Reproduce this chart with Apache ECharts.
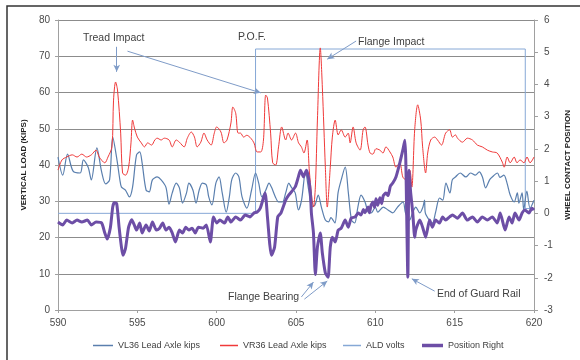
<!DOCTYPE html>
<html><head><meta charset="utf-8">
<script src="https://cdn.jsdelivr.net/npm/echarts@6/dist/echarts.min.js"></script>
<style>html,body{margin:0;padding:0;background:#fff}#c{width:580px;height:360px}</style>
</head><body><div id="c"></div>
<script>
const vl36 = [[590.0,42.2],[590.3,37.2],[590.6,43.0],[590.95,38.3],[591.4,37.8],[591.6,41.4],[591.9,39.4],[592.1,35.9],[592.45,44.7],[592.75,38.1],[593.0,34.8],[593.25,35.9],[593.45,47.7],[593.7,41.9],[593.9,35.9],[594.0,33.9],[594.25,33.1],[594.5,31.2],[594.7,33.9],[594.95,42.8],[595.15,43.6],[595.3,40.6],[595.55,33.1],[595.75,32.6],[595.95,35.9],[596.25,36.7],[596.5,35.9],[596.8,33.9],[597.0,29.2],[597.2,32.3],[597.45,35.0],[597.65,33.7],[597.85,29.5],[598.1,32.3],[598.25,35.0],[598.5,33.1],[598.7,29.5],[598.9,33.1],[599.1,35.0],[599.35,34.5],[599.5,31.2],[599.7,29.0],[599.95,35.0],[600.15,36.7],[600.35,32.3],[600.6,27.0],[600.8,31.2],[600.95,35.9],[601.2,37.8],[601.4,36.7],[601.6,31.2],[601.9,28.1],[602.2,33.1],[602.45,37.8],[602.65,35.0],[602.85,31.2],[603.1,33.1],[603.3,35.0],[603.45,33.9],[603.7,31.2],[603.9,29.8],[604.15,29.8],[604.35,32.3],[604.55,35.0],[604.7,33.9],[604.95,32.3],[605.15,27.6],[605.35,30.3],[605.6,38.1],[605.8,33.1],[606.0,28.4],[606.2,29.0],[606.4,31.7],[606.6,28.4],[606.85,24.8],[607.05,24.3],[607.2,25.5],[607.45,24.0],[607.65,32.3],[607.85,35.9],[608.1,39.4],[608.3,32.3],[608.5,24.8],[608.7,24.0],[608.9,28.4],[609.1,31.7],[609.35,29.8],[609.55,27.0],[609.75,26.8],[610.0,28.4],[610.15,27.0],[610.5,28.4],[610.8,27.6],[611.1,26.8],[611.4,28.4],[611.75,29.8],[611.9,26.8],[612.15,24.8],[612.35,26.8],[612.55,28.4],[612.8,26.8],[613.0,28.4],[613.1,30.3],[613.15,26.8],[613.4,24.8],[613.6,24.0],[613.8,27.0],[614.05,30.9],[614.25,30.3],[614.45,35.0],[614.7,32.3],[614.85,35.9],[615.05,36.7],[615.35,37.8],[615.7,36.7],[616.0,37.8],[616.3,37.2],[616.55,38.1],[616.75,36.7],[616.95,33.7],[617.2,35.9],[617.35,36.6],[617.7,37.8],[617.85,36.6],[618.1,37.2],[618.3,35.0],[618.5,31.7],[618.75,29.8],[618.95,32.3],[619.05,29.5],[619.25,32.3],[619.35,27.6],[619.55,32.8],[619.75,28.1],[620.0,30.3]];

const vr36 = [[590.0,38.6],[590.25,41.4],[590.55,42.2],[590.9,42.8],[591.2,42.2],[591.5,43.0],[591.8,42.2],[592.1,42.8],[592.4,44.1],[592.6,42.2],[592.95,40.6],[593.15,42.2],[593.4,45.0],[593.5,57.9],[593.63,62.9],[593.75,60.7],[593.95,48.8],[594.07,37.8],[594.26,37.2],[594.45,39.4],[594.6,46.1],[594.7,52.4],[594.82,50.2],[595.0,47.7],[595.25,46.1],[595.45,45.0],[595.65,46.1],[595.9,45.5],[596.1,46.9],[596.25,47.4],[596.5,46.9],[596.7,47.4],[597.0,46.9],[597.2,45.0],[597.45,46.9],[597.65,46.3],[597.95,45.0],[598.15,47.4],[598.4,49.1],[598.6,47.7],[598.77,45.0],[599.0,46.3],[599.2,48.8],[599.4,46.9],[599.65,45.5],[599.85,48.8],[600.0,50.5],[600.27,49.1],[600.46,46.1],[600.65,46.9],[600.9,51.6],[601.02,56.0],[601.2,54.3],[601.35,48.8],[601.5,48.8],[601.7,47.7],[601.9,48.2],[602.15,47.4],[602.35,46.1],[602.55,43.6],[602.78,43.6],[602.95,46.9],[603.09,59.3],[603.2,58.5],[603.4,48.8],[603.53,40.6],[603.72,40.0],[603.9,45.0],[604.1,50.5],[604.35,46.9],[604.5,48.8],[604.72,46.9],[604.97,48.8],[605.16,46.1],[605.34,45.0],[605.5,43.3],[605.7,46.9],[605.85,37.8],[606.1,28.4],[606.22,33.9],[606.35,52.4],[606.53,72.3],[606.66,61.5],[606.85,39.4],[606.97,28.4],[607.16,39.4],[607.29,47.7],[607.47,52.4],[607.66,48.3],[607.85,49.7],[608.1,47.7],[608.29,48.8],[608.41,46.1],[608.6,50.5],[608.79,46.1],[609.04,44.1],[609.23,49.7],[609.35,50.5],[609.54,45.5],[609.67,43.3],[609.85,43.0],[610.04,44.5],[610.29,44.1],[610.48,43.3],[610.67,45.0],[610.92,43.6],[611.1,42.2],[611.3,39.4],[611.54,40.6],[611.73,36.7],[611.92,35.9],[612.17,38.6],[612.3,33.9],[612.48,49.7],[612.67,56.6],[612.86,52.4],[612.98,45.0],[613.17,37.8],[613.3,43.3],[613.49,46.9],[613.74,47.7],[613.92,46.9],[614.17,45.5],[614.43,48.8],[614.68,49.7],[614.86,47.7],[615.05,48.3],[615.18,47.4],[615.49,46.3],[615.8,47.4],[616.12,46.9],[616.43,45.5],[616.74,45.0],[617.06,44.1],[617.37,43.6],[617.68,43.3],[618.0,40.8],[618.12,39.4],[618.31,42.2],[618.5,40.6],[618.75,42.2],[618.93,40.6],[619.12,41.4],[619.37,40.6],[619.56,42.2],[619.75,40.6],[620.0,42.2]];

const aldVolts = [[590.0,0],[602.45,0],[602.45,5.1],[619.45,5.1],[619.45,0.15],[620.0,0.15]];

const posRight = [[590.0,-0.27],[590.3,-0.36],[590.55,-0.21],[590.9,-0.30],[591.2,-0.21],[591.5,-0.27],[591.85,-0.21],[592.1,-0.36],[592.4,-0.27],[592.75,-0.30],[592.95,-0.61],[593.1,-0.80],[593.3,-0.45],[593.45,0.20],[593.55,0.33],[593.7,0.30],[593.85,-0.43],[594.0,-1.05],[594.1,-1.30],[594.25,-1.10],[594.45,-0.43],[594.65,-0.20],[594.8,-0.35],[594.95,-0.52],[595.15,-0.30],[595.3,-0.61],[595.55,-0.36],[595.75,-0.55],[595.95,-0.27],[596.2,-0.52],[596.4,-0.46],[596.6,-0.30],[596.8,-0.52],[597.0,-0.43],[597.2,-0.61],[597.4,-0.89],[597.65,-0.52],[597.85,-0.61],[598.05,-0.43],[598.25,-0.52],[598.45,-0.46],[598.65,-0.61],[598.85,-0.43],[599.15,-0.46],[599.35,-0.36],[599.6,-0.89],[599.8,-0.11],[600.0,-0.30],[600.2,-0.21],[600.5,-0.30],[600.7,-0.11],[600.9,-0.27],[601.2,-0.11],[601.5,-0.21],[601.8,-0.05],[602.1,-0.11],[602.35,0.01],[602.55,0.04],[602.75,0.16],[603.05,0.63],[603.2,-0.11],[603.35,-0.98],[603.45,-1.30],[603.65,-1.05],[603.85,-0.11],[604.05,0.01],[604.35,0.41],[604.55,0.57],[604.95,0.82],[605.15,1.13],[605.28,1.34],[605.47,1.13],[605.66,1.34],[605.78,1.13],[605.91,0.63],[605.97,0.01],[606.1,-0.61],[606.22,-1.90],[606.35,-1.05],[606.53,-0.61],[606.66,-1.23],[606.85,-1.85],[606.97,-1.95],[607.03,-1.98],[607.16,-1.05],[607.29,-0.74],[607.47,-0.89],[607.66,-0.52],[607.85,-0.46],[608.1,-0.21],[608.29,-0.43],[608.48,-0.15],[608.73,-0.11],[608.92,0.01],[609.1,-0.05],[609.25,0.12],[609.35,0.02],[609.54,0.20],[609.63,0.02],[609.73,0.25],[609.85,0.35],[609.95,0.18],[610.04,0.45],[610.15,0.25],[610.29,0.48],[610.4,0.30],[610.5,0.55],[610.67,0.63],[610.8,0.55],[610.95,0.85],[611.1,0.94],[611.3,1.13],[611.54,1.56],[611.73,1.96],[611.86,2.27],[611.92,1.65],[612.05,-1.98],[612.12,1.34],[612.23,0.63],[612.36,0.01],[612.48,-0.74],[612.55,-0.52],[612.8,-0.21],[612.98,-0.43],[613.17,-0.74],[613.42,-0.21],[613.6,-0.43],[613.8,-0.21],[614.05,-0.30],[614.24,-0.11],[614.43,-0.21],[614.68,-0.11],[614.86,-0.05],[615.18,-0.15],[615.49,0.01],[615.8,-0.21],[616.12,-0.11],[616.43,-0.27],[616.74,-0.11],[617.06,-0.21],[617.37,-0.11],[617.68,-0.30],[617.87,0.01],[618.18,-0.52],[618.43,-0.11],[618.62,-0.30],[618.8,0.01],[619.06,-0.21],[619.25,0.01],[619.43,0.10],[619.68,0.01],[619.87,0.16],[620.0,0.10]];

const seriesNames = ['VL36 Lead Axle kips','VR36 Lead Axle kips','ALD volts','Position Right'];
const xTicks = {min:590, max:620, interval:5};
const leftTicks = {min:0, max:80, interval:10};
const rightTicks = {min:-3, max:6, interval:1};

// annotation arrows, in data units of the left axis: [from, to]
const arrows = [
  [[593.7,72.6],[593.7,65.7]],
  [[594.38,71.4],[602.78,59.9]],
  [[608.79,74.2],[606.97,69.2]],
  [[605.34,3.6],[606.1,7.7]],
  [[605.53,3.0],[606.97,8.0]],
  [[613.74,5.2],[612.3,8.6]]
];
const notes = [
  {text:'Tread Impact', x:83, y:38},
  {text:'P.O.F.', x:238, y:37},
  {text:'Flange Impact', x:358, y:42},
  {text:'Flange Bearing', x:228, y:297},
  {text:'End of Guard Rail', x:437, y:294}
];

const FONT = 'Liberation Sans';
const colors = ['#5a7fae','#f03a3a','#86a8d6','#6d4ea6'];
const chart = echarts.init(document.getElementById('c'));
const axisLabel = {color:'#4a4a4a', fontSize:10, fontFamily:FONT};
const legendSpec = [
  {left:93, w:20, h:1.5},
  {left:220, w:18, h:1.5},
  {left:343, w:18, h:1.5},
  {left:422, w:21, h:3.5}
];
chart.setOption({
  animation:false,
  backgroundColor:'#fff',
  textStyle:{fontFamily:FONT},
  grid:{left:58, right:43, top:20, bottom:50},
  legend:legendSpec.map((s,i)=>({
    data:[{name:seriesNames[i], icon:'rect'}], top:341, left:s.left, itemWidth:s.w, itemHeight:s.h, itemGap:5,
    padding:0, textStyle:{color:'#404040', fontSize:9, fontFamily:FONT}
  })),
  xAxis:{
    type:'value', min:xTicks.min, max:xTicks.max, interval:xTicks.interval,
    axisLine:{lineStyle:{color:'#a0a0a0'}}, axisTick:{show:true, length:3, lineStyle:{color:'#a0a0a0'}},
    axisLabel:Object.assign({margin:8}, axisLabel), splitLine:{show:false}
  },
  yAxis:[{
    type:'value', min:leftTicks.min, max:leftTicks.max, interval:leftTicks.interval,
    name:'VERTICAL LOAD (KIPS)', nameLocation:'middle', nameGap:28, nameRotate:90,
    nameTextStyle:{fontSize:8, fontWeight:'bold', color:'#202020', fontFamily:FONT},
    axisLine:{show:true, lineStyle:{color:'#a0a0a0'}}, axisTick:{show:true, length:3, lineStyle:{color:'#a0a0a0'}},
    axisLabel:Object.assign({margin:8}, axisLabel),
    splitLine:{show:true, lineStyle:{color:'#8c8c8c', width:1}}
  },{
    type:'value', min:rightTicks.min, max:rightTicks.max, interval:rightTicks.interval, position:'right',
    name:'WHEEL CONTACT POSITION', nameLocation:'middle', nameGap:30, nameRotate:90,
    nameTextStyle:{fontSize:8, fontWeight:'bold', color:'#202020', fontFamily:FONT},
    axisLine:{show:true, lineStyle:{color:'#a0a0a0'}}, axisTick:{show:true, length:4, lineStyle:{color:'#a0a0a0'}},
    axisLabel:Object.assign({margin:10}, axisLabel), splitLine:{show:false}
  }],
  series:[
    {name:seriesNames[0], type:'line', data:vl36, yAxisIndex:0, symbol:'none', smooth:0.3,
     lineStyle:{color:colors[0], width:1.2}, itemStyle:{color:colors[0]}, z:3},
    {name:seriesNames[1], type:'line', data:vr36, yAxisIndex:0, symbol:'none', smooth:0.3,
     lineStyle:{color:colors[1], width:1}, itemStyle:{color:colors[1]}, z:4,
     markLine:{silent:true, animation:false, symbol:['none','arrow'], symbolSize:[5,7],
       label:{show:false}, lineStyle:{color:'#7f9cc8', width:1, type:'solid'},
       data:arrows.map(a=>[{coord:a[0]},{coord:a[1]}])}},
    {name:seriesNames[2], type:'line', data:aldVolts, yAxisIndex:1, symbol:'none',
     lineStyle:{color:colors[2], width:1}, itemStyle:{color:colors[2]}, z:2},
    {name:seriesNames[3], type:'line', data:posRight, yAxisIndex:1, symbol:'none', smooth:0.2,
     lineStyle:{color:colors[3], width:3}, itemStyle:{color:colors[3]}, z:5}
  ],
  graphic:[
    {type:'rect', shape:{x:7, y:6, width:620, height:420}, style:{fill:'none', stroke:'#333', lineWidth:1.5}, silent:true, z:100},
  ].concat(notes.map(n=>({type:'text', x:n.x, y:n.y, style:{text:n.text, fill:'#404040', font:'10.5px "'+FONT+'"', textVerticalAlign:'middle'}, z:50})))
});
</script></body></html>
